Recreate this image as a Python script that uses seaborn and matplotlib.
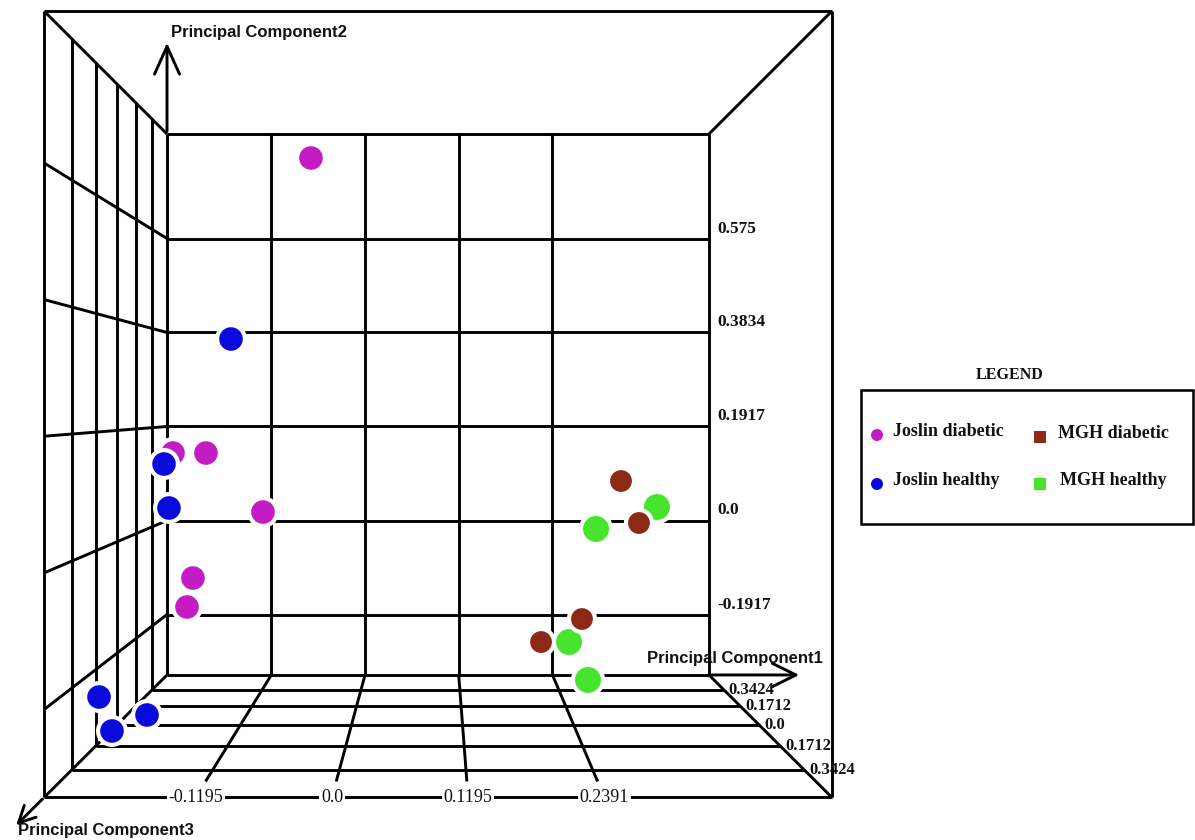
import numpy as np
import pandas as pd
import matplotlib
matplotlib.use("Agg")
import matplotlib.pyplot as plt
import seaborn as sns

# ---------------- data ----------------
groups = ["Joslin diabetic", "Joslin healthy", "MGH diabetic", "MGH healthy"]
colors = ["#C41CC4", "#0A0ADA", "#8C2A16", "#46E42C"]

jd_pc1 = [-0.0689, -0.2449, -0.2028, -0.1301, -0.2194, -0.2270]
jd_pc2 = [0.7392, 0.1376, 0.1376, 0.0173, -0.1173, -0.1764]
jh_pc1 = [-0.1709, -0.2563, -0.2500, -0.3392, -0.2780, -0.3227]
jh_pc2 = [0.3701, 0.1152, 0.0255, -0.3599, -0.3966, -0.4292]
md_pc1 = [0.3265, 0.3494, 0.2767, 0.2245]
md_pc2 = [0.0805, -0.0051, -0.2009, -0.2478]
mh_pc1 = [0.3724, 0.2946, 0.2602, 0.2844]
mh_pc2 = [0.0275, -0.0173, -0.2478, -0.3252]

pc1_ticks = [-0.1195, 0.0, 0.1195, 0.2391]
pc1_labels = ["-0.1195", "0.0", "0.1195", "0.2391"]
pc2_ticks = [0.575, 0.3834, 0.1917, 0.0, -0.1917]
pc2_labels = ["0.575", "0.3834", "0.1917", "0.0", "-0.1917"]
pc3_ticks = [-0.3424, -0.1712, 0.0, 0.1712, 0.3424]
pc3_labels = ["0.3424", "0.1712", "0.0", "0.1712", "0.3424"]

pc1_range = (-0.2525, 0.4387)   # back wall extent
pc2_range = (-0.3150, 0.7881)

# ---------------- figure / coordinate system ----------------
W, H = 1195, 840
PX_X, PX_Y = 784.1, 490.4        # pixels per unit
OX, OY = 365.0, 520.5            # pixel position of (0, 0)

def dx(px):
    return (px - OX) / PX_X

def dy(py):
    return (OY - py) / PX_Y

sns.set_style("white")
fig = plt.figure(figsize=(W / 100, H / 100), dpi=100)
ax = fig.add_axes([0, 0, 1, 1])
ax.set_xlim(dx(0), dx(W))
ax.set_ylim(dy(H), dy(0))
ax.axis("off")

VP = np.array([dx(438), dy(405)])
STEP = 0.0519
NDEPTH = 6

def proj(x, y, k):
    s = 1.0 / (1.0 - STEP * k)
    p = np.array([x, y])
    return VP + s * (p - VP)

def pc3_depth(v):
    return 3 + v / 0.1712

LW = 2.1
lk = dict(color="black", lw=LW, solid_capstyle="butt", zorder=1)

def seg(a, b):
    ax.plot([a[0], b[0]], [a[1], b[1]], **lk)

x0, x1 = pc1_range
y0, y1 = pc2_range
# back wall
for a, b in [((x0, y0), (x1, y0)), ((x0, y1), (x1, y1)),
             ((x0, y0), (x0, y1)), ((x1, y0), (x1, y1))]:
    seg(a, b)
for t in pc1_ticks:
    seg((t, y0), (t, y1))
for t in pc2_ticks:
    seg((x0, t), (x1, t))
# outer frame
c = [proj(x0, y0, NDEPTH), proj(x1, y0, NDEPTH), proj(x1, y1, NDEPTH), proj(x0, y1, NDEPTH)]
for i in range(4):
    seg(c[i], c[(i + 1) % 4])
# corner diagonals
for (x, y) in [(x0, y0), (x1, y0), (x1, y1), (x0, y1)]:
    seg((x, y), proj(x, y, NDEPTH))
# left wall
for t in pc3_ticks:
    k = pc3_depth(t)
    seg(proj(x0, y1, k), proj(x0, y0, k))
for t in pc2_ticks:
    seg(proj(x0, t, 0), proj(x0, t, NDEPTH))
# floor
for t in pc3_ticks:
    k = pc3_depth(t)
    seg(proj(x0, y0, k), proj(x1, y0, k))
for t in pc1_ticks:
    seg(proj(t, y0, 0), proj(t, y0, 5.45))

# ---------------- axis arrows & names ----------------
sans = dict(family="Liberation Sans", weight="bold", color="#111111")
serif = dict(family="Liberation Serif", weight="bold", color="#111111")

ax.annotate("", xy=(x0, dy(40)), xytext=(x0, y1),
            arrowprops=dict(arrowstyle="->,head_length=1.0,head_width=0.45",
                            lw=LW, color="black", mutation_scale=20))
ax.text(dx(171), dy(33), "Principal Component2", fontsize=12, ha="left", va="center", **sans)

ax.annotate("", xy=(dx(802), y0), xytext=(x1, y0),
            arrowprops=dict(arrowstyle="->,head_length=0.85,head_width=0.42",
                            lw=LW, color="black", mutation_scale=20))
ax.text(dx(647), dy(658), "Principal Component1", fontsize=12, ha="left", va="center", **sans)

ax.annotate("", xy=proj(x0, y0, 6.95), xytext=proj(x0, y0, NDEPTH),
            arrowprops=dict(arrowstyle="->,head_length=0.6,head_width=0.3",
                            lw=LW, color="black", mutation_scale=20))
ax.text(dx(18), dy(830), "Principal Component3", fontsize=12, ha="left", va="center", **sans)

# ---------------- tick labels ----------------
for t, lab in zip(pc2_ticks, pc2_labels):
    ax.text(x1 + 8 / PX_X, t + 10 / PX_Y, lab, fontsize=12.5, ha="left", va="center", **serif)
for t, lab in zip(pc1_ticks, pc1_labels):
    p = proj(t, y0, NDEPTH)
    ax.text(p[0], p[1], lab, fontsize=13, ha="center", va="center",
            bbox=dict(boxstyle="square,pad=0.1", fc="white", ec="none"),
            zorder=3, family="Liberation Serif", color="#111111")
for t, lab in zip(pc3_ticks, pc3_labels):
    p = proj(x1, y0, pc3_depth(t))
    ax.text(p[0] + 5 / PX_X, p[1], lab, fontsize=12, ha="left", va="center", zorder=3, **serif)

# ---------------- points ----------------
df = pd.concat([
    pd.DataFrame({"PC1": jd_pc1, "PC2": jd_pc2, "Group": groups[0]}),
    pd.DataFrame({"PC1": jh_pc1, "PC2": jh_pc2, "Group": groups[1]}),
    pd.DataFrame({"PC1": mh_pc1, "PC2": mh_pc2, "Group": groups[3]}),
    pd.DataFrame({"PC1": md_pc1, "PC2": md_pc2, "Group": groups[2]}),
], ignore_index=True)
palette = dict(zip(groups, colors))
sizes = {groups[0]: 400, groups[1]: 400, groups[2]: 350, groups[3]: 470}
sns.scatterplot(data=df, x="PC1", y="PC2", hue="Group", size="Group",
                palette=palette, sizes=sizes, edgecolor="white", linewidth=3,
                legend=False, ax=ax, zorder=5)
ax.set_xlim(dx(0), dx(W))
ax.set_ylim(dy(H), dy(0))
ax.axis("off")

# ---------------- legend ----------------
ax.text(dx(1010), dy(375), "LEGEND", fontsize=11.5, ha="center", va="center", **serif)
ax.add_patch(plt.Rectangle((dx(861), dy(524)), dx(1193) - dx(861), dy(390) - dy(524),
                           fill=False, ec="black", lw=1.8, zorder=2))
leg_pos = [(877, 435, "o", 75), (877, 484, "o", 75), (1040, 437, "s", 65), (1040, 484, "s", 65)]
text_x = [893, 893, 1058, 1060]
for g, col, (px, py, m, s), tx in zip(groups, colors, leg_pos, text_x):
    ax.scatter([dx(px)], [dy(py)], s=s, marker=m, color=col, edgecolor="none", zorder=5)
    ax.text(dx(tx), dy(py - 3), g, fontsize=13, ha="left", va="center", **serif)

fig.savefig("out.png", dpi=100)
